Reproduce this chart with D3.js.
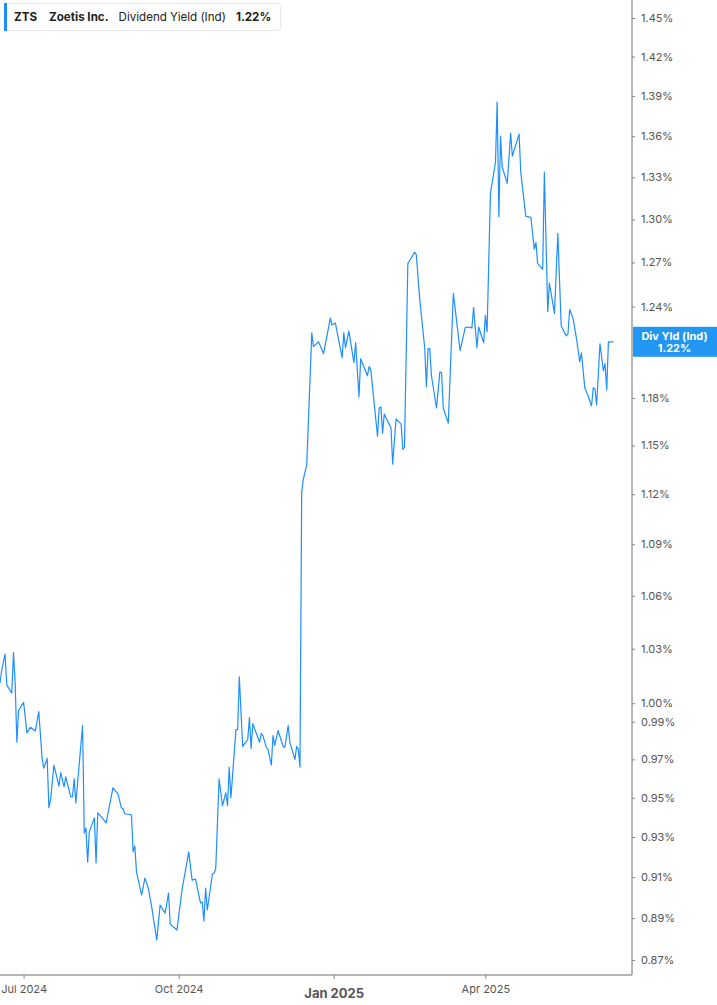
<!DOCTYPE html>
<html><head><meta charset="utf-8">
<script src="https://cdn.jsdelivr.net/npm/d3@7"></script>
<style>
html,body{margin:0;padding:0;background:#fff;}
svg{display:block;font-family:Inter,"Noto Sans",sans-serif;}
</style></head>
<body>
<svg id="chart" width="717" height="1005"></svg>
<script>
const dates = [
"2024-06-17","2024-06-18","2024-06-20","2024-06-21","2024-06-24","2024-06-25","2024-06-26","2024-06-27","2024-06-28",
"2024-07-01","2024-07-03","2024-07-05","2024-07-08","2024-07-10","2024-07-12","2024-07-13","2024-07-15","2024-07-16","2024-07-17","2024-07-19",
"2024-07-22","2024-07-23","2024-07-25","2024-07-26","2024-07-29","2024-07-30","2024-07-31",
"2024-08-01","2024-08-05","2024-08-06","2024-08-07","2024-08-08","2024-08-09","2024-08-12","2024-08-13","2024-08-14","2024-08-16",
"2024-08-19","2024-08-23","2024-08-26","2024-08-28","2024-08-29","2024-08-30",
"2024-09-03","2024-09-04","2024-09-05","2024-09-06","2024-09-09","2024-09-11","2024-09-13","2024-09-15","2024-09-18","2024-09-20",
"2024-09-23","2024-09-25","2024-09-26","2024-09-30",
"2024-10-03","2024-10-07","2024-10-09","2024-10-11","2024-10-14","2024-10-15","2024-10-16","2024-10-17","2024-10-18",
"2024-10-21","2024-10-22","2024-10-23","2024-10-25","2024-10-27","2024-10-29","2024-10-30","2024-10-31",
"2024-11-01","2024-11-04","2024-11-05","2024-11-06","2024-11-08","2024-11-11","2024-11-12","2024-11-13","2024-11-14",
"2024-11-18","2024-11-19","2024-11-20","2024-11-22","2024-11-23","2024-11-25","2024-11-26","2024-11-27","2024-11-29",
"2024-12-02","2024-12-03","2024-12-05","2024-12-06","2024-12-09","2024-12-10","2024-12-11","2024-12-12","2024-12-13","2024-12-14","2024-12-16",
"2024-12-19","2024-12-20","2024-12-23","2024-12-26","2024-12-30","2024-12-31",
"2025-01-02","2025-01-06","2025-01-07","2025-01-08","2025-01-10","2025-01-13","2025-01-14","2025-01-16","2025-01-17",
"2025-01-21","2025-01-22","2025-01-23","2025-01-27","2025-01-28","2025-01-29","2025-01-30","2025-01-31",
"2025-02-04","2025-02-05","2025-02-07","2025-02-10","2025-02-11","2025-02-12","2025-02-14","2025-02-18","2025-02-19","2025-02-21",
"2025-02-24","2025-02-25","2025-02-26","2025-02-27","2025-02-28",
"2025-03-03","2025-03-05","2025-03-06","2025-03-07","2025-03-10","2025-03-13","2025-03-17","2025-03-20","2025-03-21",
"2025-03-24","2025-03-25","2025-03-27","2025-03-28","2025-03-31",
"2025-04-01","2025-04-02","2025-04-04","2025-04-07","2025-04-08","2025-04-09","2025-04-10","2025-04-11","2025-04-14","2025-04-16","2025-04-17",
"2025-04-21","2025-04-22","2025-04-25","2025-04-28","2025-04-30",
"2025-05-01","2025-05-02","2025-05-05","2025-05-06","2025-05-08","2025-05-09","2025-05-12","2025-05-14","2025-05-16",
"2025-05-19","2025-05-20","2025-05-21","2025-05-23","2025-05-25","2025-05-27","2025-05-28","2025-05-30",
"2025-06-01","2025-06-03","2025-06-04","2025-06-05","2025-06-06","2025-06-08","2025-06-10","2025-06-11","2025-06-12","2025-06-13","2025-06-16"
];
const yieldValues = [
1.011,1.018,1.027,1.010,1.0055,1.028,1.011,0.979,0.996,
1.0005,0.984,0.987,0.985,0.9955,0.9705,0.9654,0.9705,0.9449,0.949,0.967,
0.956,0.963,0.9556,0.9608,0.9505,0.9505,0.9598,
0.9474,0.9879,0.932,0.9346,0.9175,0.9326,0.9397,0.917,0.9423,0.9403,
0.9372,0.9551,0.952,0.9449,0.9444,0.9418,
0.9413,0.9225,0.9255,0.9125,0.9012,0.9095,0.9046,0.8954,0.8795,0.8963,
0.8924,0.9022,0.8871,0.8843,
0.9037,0.9225,0.9085,0.909,0.8973,0.8978,0.8886,0.9046,0.8939,
0.9115,0.912,0.914,0.9598,0.9459,0.9526,0.9459,0.9659,
0.95,0.9858,0.9858,1.0144,0.9768,0.9805,0.9922,0.9758,0.989,
0.979,0.9837,0.9826,0.9763,0.9753,0.967,0.9826,0.9774,0.9853,
0.9768,0.9763,0.9879,0.979,0.970,0.9768,0.9753,0.9659,1.1212,1.1292,1.1378,
1.2224,1.2133,1.2165,1.2087,1.2322,1.2276,
1.2289,1.2061,1.2224,1.2126,1.2237,1.2028,1.2159,1.1807,1.2054,
1.1943,1.2002,1.1983,1.1558,1.1736,1.1743,1.1577,1.1698,
1.1609,1.1384,1.1666,1.1634,1.1476,1.1488,1.2693,1.277,1.2756,1.2455,
1.2126,1.1872,1.212,1.212,1.1943,
1.1736,1.1969,1.1963,1.1736,1.164,1.2489,1.2107,1.2257,1.2263,
1.2257,1.2393,1.2126,1.2263,1.2159,
1.2341,1.2231,1.3186,1.341,1.3854,1.3021,1.36,1.3373,1.3257,1.3622,1.3454,
1.3615,1.3337,1.3021,1.3014,1.2791,
1.2839,1.2693,1.2652,1.3337,1.2367,1.2557,1.2354,1.2902,1.227,
1.2204,1.2217,1.238,1.2322,1.2191,1.2035,1.2093,1.1865,
1.1813,1.1749,1.1865,1.1859,1.1755,1.2152,1.1976,1.2022,1.1852,1.2165,1.2165
];
const yTickValues = [1.45,1.42,1.39,1.36,1.33,1.30,1.27,1.24,1.18,1.15,1.12,1.09,1.06,1.03,1.00,0.99,0.97,0.95,0.93,0.91,0.89,0.87];
const xTickDates = ["2024-07-01","2024-10-01","2025-01-01","2025-04-01"];
const xDomain = ["2024-06-17","2025-06-27"];
const ticker = "ZTS", company = "Zoetis Inc.", metric = "Dividend Yield (Ind)", shortMetric = "Div Yld (Ind)";

const parse = d3.utcParse("%Y-%m-%d");
const data = dates.map((d,i)=>({date:parse(d), v:yieldValues[i]}));
const svg = d3.select("#chart");
const W = 717, H = 1005, axisX = 632, axisY = 975;
const blue = "#1e8fff";

const x = d3.scaleUtc().domain(xDomain.map(parse)).range([0, axisX]);
const y = d3.scaleLog().domain([0.87, 1.45]).range([960, 18]);

// line
svg.append("path").datum(data)
  .attr("fill","none").attr("stroke",blue).attr("stroke-width",1.2)
  .attr("stroke-linejoin","round")
  .attr("d", d3.line().x(d=>x(d.date)).y(d=>y(d.v)));

// axis lines
svg.append("line").attr("x1",axisX).attr("x2",axisX).attr("y1",0).attr("y2",axisY)
  .attr("stroke","#9e9e9e").attr("stroke-width",1.5);
svg.append("line").attr("x1",0).attr("x2",axisX).attr("y1",axisY).attr("y2",axisY)
  .attr("stroke","#9e9e9e").attr("stroke-width",1.5);

// y axis
const ya = svg.append("g").attr("transform",`translate(${axisX},0)`)
  .call(d3.axisRight(y).tickValues(yTickValues).tickFormat(d=>d.toFixed(2)+"%").tickSize(3).tickPadding(6));
ya.select(".domain").remove();
ya.selectAll(".tick line").attr("stroke","#888");
ya.selectAll(".tick text").attr("fill","#555").attr("font-size",11).attr("font-family","Inter,sans-serif");

// x axis
const xa = svg.append("g").attr("transform",`translate(0,${axisY})`)
  .call(d3.axisBottom(x).tickValues(xTickDates.map(parse)).tickFormat(d3.utcFormat("%b %Y")).tickSize(4).tickPadding(6));
xa.select(".domain").remove();
xa.selectAll(".tick line").attr("stroke","#888");
xa.selectAll(".tick text").attr("fill","#555").attr("font-size",11).attr("font-family","Inter,sans-serif")
  .each(function(d){ if(d.getUTCMonth()===0){ d3.select(this).attr("font-weight","bold").attr("font-size",13).attr("dy","1.0em"); } });

// legend
const last = data[data.length-1];
const lg = svg.append("g");
lg.append("rect").attr("x",4.5).attr("y",3.5).attr("width",276).attr("height",27).attr("rx",3)
  .attr("fill","#fff").attr("stroke","#e6e6e6");
lg.append("rect").attr("x",4).attr("y",3).attr("width",3).attr("height",28).attr("fill",blue);
const lt = lg.append("text").attr("x",14).attr("y",21).attr("font-size",11.6).attr("fill","#222");
lt.append("tspan").attr("font-weight","bold").text(ticker);
lt.append("tspan").attr("dx",12).attr("font-weight","bold").text(company);
lt.append("tspan").attr("dx",10).text(metric);
lt.append("tspan").attr("dx",10).attr("font-weight","bold").text(last.v.toFixed(2)+"%");

// right label
const ly = y(last.v);
const lb = svg.append("g");
lb.append("rect").attr("x",axisX+1).attr("y",ly-15).attr("width",W-axisX-1).attr("height",30).attr("fill","#2196f3");
lb.append("text").attr("x",(axisX+W)/2).attr("y",ly-2).attr("text-anchor","middle")
  .attr("fill","#fff").attr("font-weight","bold").attr("font-size",11).text(shortMetric);
lb.append("text").attr("x",(axisX+W)/2).attr("y",ly+10).attr("text-anchor","middle")
  .attr("fill","#fff").attr("font-weight","bold").attr("font-size",11).text(last.v.toFixed(2)+"%");
</script>
</body></html>
